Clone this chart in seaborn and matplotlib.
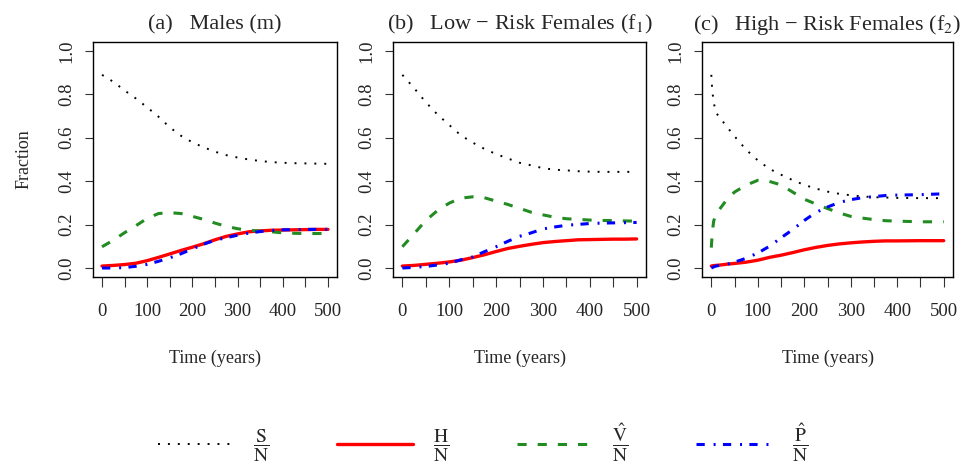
import numpy as np
import pandas as pd
import matplotlib
matplotlib.use('Agg')
import matplotlib.pyplot as plt
import seaborn as sns
from matplotlib.lines import Line2D

# values
time_ab = [0, 25, 50, 75, 100, 125, 150, 175, 200, 225, 250,
           275, 300, 325, 350, 375, 400, 425, 450, 475, 500]

# (a) males
s_m = [0.890, 0.858, 0.818, 0.781, 0.740, 0.697, 0.648, 0.609, 0.579, 0.556, 0.536,
       0.520, 0.509, 0.500, 0.493, 0.488, 0.485, 0.483, 0.482, 0.481, 0.480]
h_m = [0.009, 0.012, 0.016, 0.022, 0.034, 0.049, 0.065, 0.081, 0.096, 0.112, 0.130,
       0.146, 0.157, 0.167, 0.171, 0.174, 0.175, 0.176, 0.177, 0.178, 0.178]
v_m = [0.098, 0.128, 0.163, 0.195, 0.229, 0.251, 0.255, 0.251, 0.238, 0.224, 0.207,
       0.192, 0.181, 0.174, 0.170, 0.167, 0.162, 0.160, 0.159, 0.159, 0.159]
p_m = [0.000, 0.000, 0.002, 0.008, 0.017, 0.031, 0.047, 0.066, 0.088, 0.110, 0.128,
       0.140, 0.151, 0.161, 0.168, 0.173, 0.176, 0.177, 0.178, 0.178, 0.178]

# (b) low-risk females
s_f1 = [0.890, 0.829, 0.764, 0.707, 0.659, 0.611, 0.578, 0.549, 0.525, 0.505, 0.485,
        0.473, 0.460, 0.453, 0.450, 0.446, 0.444, 0.443, 0.443, 0.443, 0.443]
h_f1 = [0.009, 0.012, 0.017, 0.022, 0.028, 0.036, 0.048, 0.061, 0.076, 0.090, 0.100,
        0.109, 0.117, 0.122, 0.126, 0.130, 0.131, 0.132, 0.133, 0.133, 0.134]
v_f1 = [0.098, 0.158, 0.219, 0.265, 0.299, 0.322, 0.328, 0.324, 0.308, 0.293, 0.275,
        0.257, 0.245, 0.234, 0.227, 0.224, 0.221, 0.219, 0.219, 0.217, 0.216]
p_f1 = [0.000, 0.003, 0.007, 0.014, 0.022, 0.038, 0.051, 0.075, 0.098, 0.123, 0.146,
        0.162, 0.180, 0.189, 0.197, 0.201, 0.205, 0.207, 0.208, 0.209, 0.210]

# (c) high-risk females (fast start, so a finer grid early on)
time_c = [0, 2, 5, 10, 20, 35, 50, 75, 100, 125, 150, 175, 200,
          225, 250, 275, 300, 325, 350, 375, 400, 450, 500]
s_f2 = [0.890, 0.820, 0.765, 0.716, 0.688, 0.647, 0.607, 0.545, 0.496, 0.457, 0.430, 0.405, 0.383,
        0.366, 0.352, 0.342, 0.335, 0.330, 0.326, 0.325, 0.323, 0.322, 0.322]
h_f2 = [0.009, 0.010, 0.011, 0.012, 0.014, 0.018, 0.021, 0.027, 0.036, 0.049, 0.059, 0.071, 0.084,
        0.095, 0.104, 0.111, 0.116, 0.120, 0.123, 0.125, 0.125, 0.126, 0.126]
v_f2 = [0.094, 0.160, 0.215, 0.250, 0.277, 0.320, 0.350, 0.382, 0.404, 0.399, 0.383, 0.350, 0.317,
        0.295, 0.274, 0.254, 0.238, 0.230, 0.223, 0.218, 0.216, 0.213, 0.213]
p_f2 = [0.000, 0.002, 0.005, 0.009, 0.013, 0.018, 0.027, 0.045, 0.069, 0.100, 0.139, 0.177, 0.219,
        0.256, 0.281, 0.302, 0.315, 0.324, 0.329, 0.334, 0.336, 0.338, 0.342]

titles = ['(a)   Males (m)',
          '(b)   Low \u2212 Risk Females (f$_1$)',
          '(c)   High \u2212 Risk Females (f$_2$)']
legend_labels = [r'$\dfrac{\mathrm{S}}{\mathrm{N}}$',
                 r'$\dfrac{\mathrm{H}}{\mathrm{N}}$',
                 r'$\dfrac{\hat{\mathrm{V}}}{\mathrm{N}}$',
                 r'$\dfrac{\hat{\mathrm{P}}}{\mathrm{N}}$']

sns.set_theme(style='white')
plt.rcParams['font.family'] = ['Liberation Serif', 'DejaVu Serif']
plt.rcParams['mathtext.fontset'] = 'stix'

# line styles: S dotted, H solid, V dashed, P dot-dash
styles = [
    dict(color='black', linewidth=1.4, linestyle=(0, (1, 4.1))),
    dict(color='#ff0000', linewidth=2.4, linestyle='-'),
    dict(color='#228b22', linewidth=2.2, linestyle=(0, (3.0, 3.6))),
    dict(color='#0000ff', linewidth=2.2, linestyle=(0, (2.7, 2.9, 0.65, 2.4))),
]

panels = [
    (time_ab, [s_m, h_m, v_m, p_m]),
    (time_ab, [s_f1, h_f1, v_f1, p_f1]),
    (time_c, [s_f2, h_f2, v_f2, p_f2]),
]

fig = plt.figure(figsize=(9.6, 4.68), dpi=100)
W, H = 960, 468
boxes = [(93, 244), (393, 253), (702, 251)]
top, bottom = 42.3, 276.7

for i, (t, series) in enumerate(panels):
    left, width = boxes[i]
    ax = fig.add_axes([left / W, 1 - bottom / H, width / W, (bottom - top) / H])
    for vals, st in zip(series, styles):
        sns.lineplot(x=t, y=vals, ax=ax, **st)
    ax.set_xlim(-20, 520)
    ax.set_ylim(-0.04, 1.04)
    ax.set_xticks([0, 100, 200, 300, 400, 500])
    ax.set_xticks(np.arange(0, 501, 50), minor=True)
    ax.set_yticks([0.0, 0.2, 0.4, 0.6, 0.8, 1.0])
    ax.set_yticklabels(['0.0', '0.2', '0.4', '0.6', '0.8', '1.0'],
                       rotation=90, va='center')
    ax.tick_params(axis='x', which='both', bottom=True, direction='out',
                   length=7, width=0.8, color='#333333', labelsize=13.5, pad=12)
    ax.tick_params(axis='y', left=True, direction='out', length=6, width=0.8,
                   color='#333333', labelsize=13.5, pad=7)
    ax.tick_params(axis='x', which='minor', labelbottom=False)
    for sp in ax.spines.values():
        sp.set_color('black')
        sp.set_linewidth(1.0)
    ax.set_title(titles[i], fontsize=16, pad=9)
    ax.set_xlabel('Time (years)', fontsize=13, labelpad=21)
    if i == 0:
        ax.set_ylabel('Fraction', fontsize=13, labelpad=18)
    else:
        ax.set_ylabel('')

handles = [Line2D([], [], **st) for st in styles]
fig.legend(handles, legend_labels, loc='center left',
           bbox_to_anchor=(158 / W, 1 - 443 / H), ncol=4, frameon=False,
           fontsize=14, handlelength=3.9, handletextpad=1.0, columnspacing=3.5,
           borderpad=0, borderaxespad=0)

fig.savefig('out.png', dpi=100)
